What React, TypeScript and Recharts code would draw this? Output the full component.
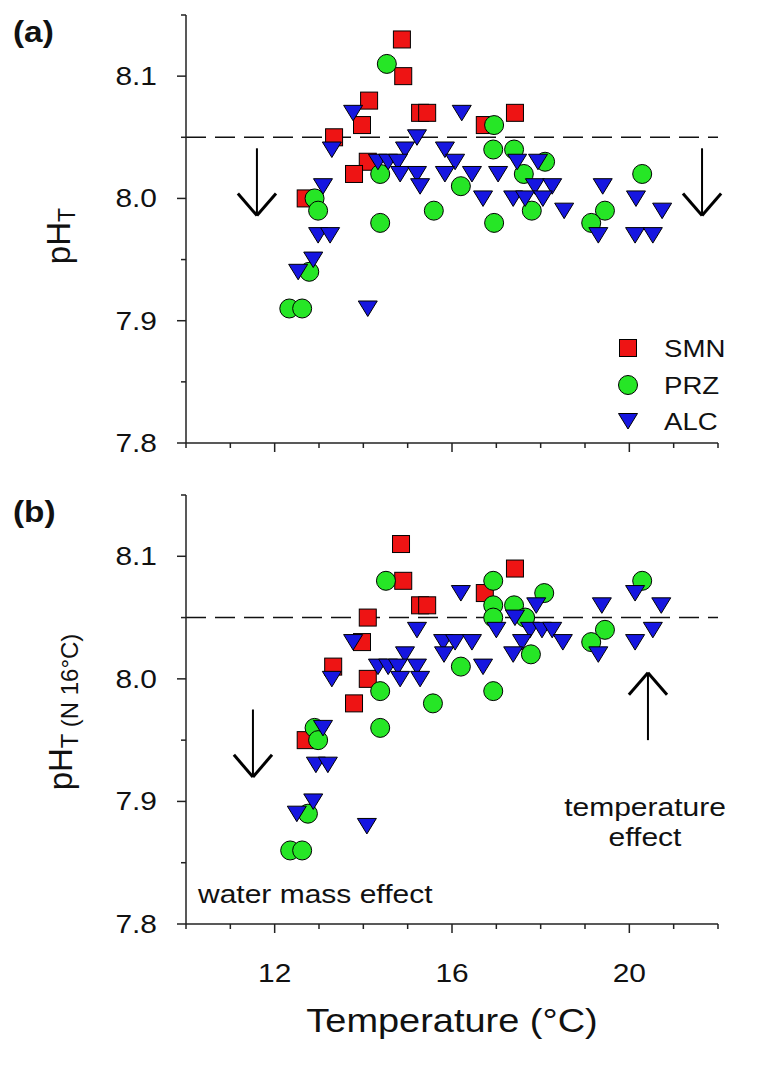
import React from 'react';
import { ScatterChart, Scatter, XAxis, YAxis, ReferenceLine } from 'recharts';

const FONT = 'Arial, "Liberation Sans", sans-serif';
const RED = '#ee1414';
const GREEN = '#26e626';
const BLUE = '#1616e0';
const AXIS = '#222';

const xTicks = [10, 11, 12, 13, 14, 15, 16, 17, 18, 19, 20, 21, 22];
const xLabels = [12, 16, 20];
const yTicks = [7.8, 7.85, 7.9, 7.95, 8.0, 8.05, 8.1, 8.15];
const yLabels = [7.8, 7.9, 8.0, 8.1];
const refPH = 8.05;

// (a) measured pH
const smnA = [
  { t: 14.87, ph: 8.13 }, { t: 14.9, ph: 8.1 }, { t: 14.13, ph: 8.08 }, { t: 13.97, ph: 8.06 },
  { t: 15.28, ph: 8.07 }, { t: 15.44, ph: 8.07 }, { t: 13.34, ph: 8.05 }, { t: 14.1, ph: 8.03 },
  { t: 13.79, ph: 8.02 }, { t: 12.7, ph: 8.0 }, { t: 17.42, ph: 8.07 }, { t: 16.74, ph: 8.06 },
];
const przA = [
  { t: 14.53, ph: 8.11 }, { t: 14.38, ph: 8.02 }, { t: 12.9, ph: 8.0 }, { t: 12.98, ph: 7.99 },
  { t: 14.38, ph: 7.98 }, { t: 15.59, ph: 7.99 }, { t: 16.2, ph: 8.01 }, { t: 16.95, ph: 8.06 },
  { t: 16.93, ph: 8.04 }, { t: 17.4, ph: 8.04 }, { t: 18.1, ph: 8.03 }, { t: 17.62, ph: 8.02 },
  { t: 16.95, ph: 7.98 }, { t: 17.8, ph: 7.99 }, { t: 20.29, ph: 8.02 }, { t: 19.45, ph: 7.99 },
  { t: 19.14, ph: 7.98 }, { t: 12.78, ph: 7.94 }, { t: 12.33, ph: 7.91 }, { t: 12.62, ph: 7.91 },
];
const alcA = [
  { t: 13.77, ph: 8.07 }, { t: 13.29, ph: 8.04 }, { t: 16.22, ph: 8.07 }, { t: 15.21, ph: 8.05 },
  { t: 14.94, ph: 8.04 }, { t: 15.84, ph: 8.04 }, { t: 16.07, ph: 8.03 }, { t: 14.33, ph: 8.03 },
  { t: 14.56, ph: 8.03 }, { t: 14.78, ph: 8.03 }, { t: 14.83, ph: 8.02 }, { t: 15.21, ph: 8.02 },
  { t: 15.28, ph: 8.01 }, { t: 15.84, ph: 8.02 }, { t: 16.45, ph: 8.02 }, { t: 13.09, ph: 8.01 },
  { t: 12.98, ph: 7.97 }, { t: 13.25, ph: 7.97 }, { t: 17.04, ph: 8.02 }, { t: 17.47, ph: 8.03 },
  { t: 17.94, ph: 8.03 }, { t: 17.87, ph: 8.01 }, { t: 18.26, ph: 8.01 }, { t: 16.7, ph: 8.0 },
  { t: 17.38, ph: 8.0 }, { t: 17.65, ph: 8.0 }, { t: 18.05, ph: 8.0 }, { t: 18.53, ph: 7.99 },
  { t: 19.4, ph: 8.01 }, { t: 20.15, ph: 8.0 }, { t: 20.74, ph: 7.99 }, { t: 19.3, ph: 7.97 },
  { t: 20.13, ph: 7.97 }, { t: 20.53, ph: 7.97 }, { t: 12.87, ph: 7.95 }, { t: 12.53, ph: 7.94 },
  { t: 14.1, ph: 7.91 },
];

// (b) pH normalised to 16 °C
const smnB = [
  { t: 14.85, ph: 8.11 }, { t: 14.9, ph: 8.08 }, { t: 15.28, ph: 8.06 }, { t: 15.44, ph: 8.06 },
  { t: 14.1, ph: 8.05 }, { t: 13.97, ph: 8.03 }, { t: 13.32, ph: 8.01 }, { t: 14.1, ph: 8.0 },
  { t: 13.79, ph: 7.98 }, { t: 12.7, ph: 7.95 }, { t: 17.42, ph: 8.09 }, { t: 16.74, ph: 8.07 },
];
const przB = [
  { t: 14.51, ph: 8.08 }, { t: 14.38, ph: 7.99 }, { t: 14.38, ph: 7.96 }, { t: 15.57, ph: 7.98 },
  { t: 16.2, ph: 8.01 }, { t: 16.93, ph: 8.08 }, { t: 16.93, ph: 8.06 }, { t: 16.93, ph: 8.05 },
  { t: 17.4, ph: 8.06 }, { t: 17.65, ph: 8.05 }, { t: 18.08, ph: 8.07 }, { t: 17.78, ph: 8.02 },
  { t: 16.93, ph: 7.99 }, { t: 20.29, ph: 8.08 }, { t: 19.45, ph: 8.04 }, { t: 19.14, ph: 8.03 },
  { t: 12.9, ph: 7.96 }, { t: 12.98, ph: 7.95 }, { t: 12.75, ph: 7.89 }, { t: 12.35, ph: 7.86 },
  { t: 12.62, ph: 7.86 },
];
const alcB = [
  { t: 16.2, ph: 8.07 }, { t: 15.21, ph: 8.04 }, { t: 13.77, ph: 8.03 }, { t: 15.8, ph: 8.03 },
  { t: 16.07, ph: 8.03 }, { t: 16.45, ph: 8.03 }, { t: 15.82, ph: 8.02 }, { t: 14.94, ph: 8.02 },
  { t: 14.33, ph: 8.01 }, { t: 14.56, ph: 8.01 }, { t: 14.78, ph: 8.01 }, { t: 15.21, ph: 8.01 },
  { t: 14.83, ph: 8.0 }, { t: 15.28, ph: 8.0 }, { t: 13.29, ph: 8.0 }, { t: 17.9, ph: 8.06 },
  { t: 17.42, ph: 8.05 }, { t: 17.0, ph: 8.04 }, { t: 17.76, ph: 8.04 }, { t: 18.03, ph: 8.04 },
  { t: 18.26, ph: 8.04 }, { t: 17.58, ph: 8.03 }, { t: 18.5, ph: 8.03 }, { t: 17.38, ph: 8.02 },
  { t: 16.7, ph: 8.01 }, { t: 19.38, ph: 8.06 }, { t: 19.3, ph: 8.02 }, { t: 20.13, ph: 8.07 },
  { t: 20.72, ph: 8.06 }, { t: 20.53, ph: 8.04 }, { t: 20.13, ph: 8.03 }, { t: 13.09, ph: 7.96 },
  { t: 12.93, ph: 7.93 }, { t: 13.2, ph: 7.93 }, { t: 12.87, ph: 7.9 }, { t: 12.5, ph: 7.89 },
  { t: 14.08, ph: 7.88 },
];

// arrows (temperature, start pH, tip pH)
const arrowsA = [
  { t: 11.6, from: 8.041, to: 7.986 },
  { t: 21.64, from: 8.041, to: 7.986 },
];
const arrowsB = [
  { t: 11.51, from: 7.975, to: 7.92 },
  { t: 20.42, from: 7.95, to: 8.005 },
];

const SquareDot = (p: any) => (
  <rect x={p.cx - 8.5} y={p.cy - 8.5} width={17} height={17} fill={RED} stroke="#000" strokeWidth={1} />
);
const CircleDot = (p: any) => (
  <circle cx={p.cx} cy={p.cy} r={9.5} fill={GREEN} stroke="#000" strokeWidth={1} />
);
const TriDot = (p: any) => (
  <polygon
    points={`${p.cx - 9.5},${p.cy - 7.5} ${p.cx + 9.5},${p.cy - 7.5} ${p.cx},${p.cy + 8}`}
    fill={BLUE}
    stroke="#000"
    strokeWidth={1}
  />
);

const XTick = ({ x, y, payload, showLabel }: any) => {
  const major = xLabels.includes(payload.value);
  return (
    <g>
      <line x1={x} y1={y} x2={x} y2={y + (major ? 9 : 5)} stroke={AXIS} strokeWidth={1.5} />
      {showLabel && major && (
        <text transform={`translate(${x},${y + 58}) scale(1.15,1)`} textAnchor="middle" fontSize={26} fill="#111">
          {payload.value}
        </text>
      )}
    </g>
  );
};

const YTick = ({ x, y, payload }: any) => {
  const v = payload.value;
  const major = yLabels.some((l) => Math.abs(l - v) < 1e-6);
  return (
    <g>
      <line x1={x - (major ? 9 : 5)} y1={y} x2={x} y2={y} stroke={AXIS} strokeWidth={1.5} />
      {major && (
        <text transform={`translate(${x - 29},${y + 9}) scale(1.15,1)`} textAnchor="end" fontSize={26} fill="#111">
          {v.toFixed(1)}
        </text>
      )}
    </g>
  );
};

const arrowLines = (list: { t: number; from: number; to: number }[], key: string) =>
  list.flatMap((a, i) => {
    const dir = a.to < a.from ? 1 : -1;
    return [
      <ReferenceLine key={`${key}s${i}`} ifOverflow="visible" stroke="#000" strokeWidth={2}
        segment={[{ x: a.t, y: a.from }, { x: a.t, y: a.to }]} />,
      <ReferenceLine key={`${key}l${i}`} ifOverflow="visible" stroke="#000" strokeWidth={3}
        segment={[{ x: a.t - 0.43, y: a.to + dir * 0.018 }, { x: a.t, y: a.to }]} />,
      <ReferenceLine key={`${key}r${i}`} ifOverflow="visible" stroke="#000" strokeWidth={3}
        segment={[{ x: a.t + 0.43, y: a.to + dir * 0.018 }, { x: a.t, y: a.to }]} />,
    ];
  });

const Panel = ({ smn, prz, alc, arrows, height, xHeight, showLabels, id }: any) => (
  <ScatterChart
    width={783}
    height={height}
    margin={{ top: 15, right: 65, bottom: 0, left: 0 }}
    style={{ fontFamily: FONT }}
  >
    <XAxis
      type="number"
      dataKey="t"
      domain={[10, 22]}
      ticks={xTicks}
      interval={0}
      height={xHeight}
      tickSize={0}
      tickMargin={0}
      tickLine={false}
      axisLine={{ stroke: AXIS, strokeWidth: 1.5 }}
      tick={<XTick showLabel={showLabels} />}
      allowDataOverflow
    />
    <YAxis
      type="number"
      dataKey="ph"
      domain={[7.8, 8.15]}
      ticks={yTicks}
      interval={0}
      width={186}
      tickSize={0}
      tickMargin={0}
      tickLine={false}
      axisLine={{ stroke: AXIS, strokeWidth: 1.5 }}
      tick={<YTick />}
      allowDataOverflow
    />
    <ReferenceLine y={refPH} stroke="#111" strokeWidth={1.5} strokeDasharray="20 9" />
    {arrowLines(arrows, id)}
    <Scatter name="SMN" data={smn} shape={SquareDot} isAnimationActive={false} />
    <Scatter name="PRZ" data={prz} shape={CircleDot} isAnimationActive={false} />
    <Scatter name="ALC" data={alc} shape={TriDot} isAnimationActive={false} />
  </ScatterChart>
);

const legendItems = [
  { name: 'SMN', y: 348 },
  { name: 'PRZ', y: 385 },
  { name: 'ALC', y: 421 },
];

export default function App() {
  return (
    <div style={{ position: 'absolute', left: 0, top: 0, width: 783, height: 1067, background: '#fff', fontFamily: FONT }}>
      <div style={{ position: 'absolute', left: 0, top: 0 }}>
        <Panel smn={smnA} prz={przA} alc={alcA} arrows={arrowsA} height={480} xHeight={37} showLabels={false} id="a" />
      </div>
      <div style={{ position: 'absolute', left: 0, top: 480 }}>
        <Panel smn={smnB} prz={przB} alc={alcB} arrows={arrowsB} height={587} xHeight={143} showLabels id="b" />
      </div>
      <svg
        width={783}
        height={1067}
        style={{ position: 'absolute', left: 0, top: 0, pointerEvents: 'none', fontFamily: FONT }}
      >
        <text transform="translate(13,42) scale(1.15,1)" fontSize={29} fontWeight="bold" fill="#111">(a)</text>
        <text transform="translate(13,522) scale(1.15,1)" fontSize={29} fontWeight="bold" fill="#111">(b)</text>

        <text transform="translate(58,236) rotate(-90)" textAnchor="middle" dominantBaseline="central" fontSize={33} fill="#111">
          pH<tspan fontSize={23} dy={9}>T</tspan>
        </text>
        <text transform="translate(60,712) rotate(-90)" textAnchor="middle" dominantBaseline="central" fontSize={33} fill="#111">
          pH<tspan fontSize={24} dy={9}>T (N 16°C)</tspan>
        </text>

        <text transform="translate(452,1032) scale(1.15,1)" textAnchor="middle" fontSize={33} fill="#111">
          Temperature (°C)
        </text>

        {legendItems.map((it, i) => (
          <g key={it.name}>
            {i === 0 && <SquareDot cx={628} cy={it.y} />}
            {i === 1 && <CircleDot cx={628} cy={it.y} />}
            {i === 2 && <TriDot cx={628} cy={it.y} />}
            <text transform={`translate(664,${it.y + 9}) scale(1.15,1)`} fontSize={24} fill="#111">
              {it.name}
            </text>
          </g>
        ))}

        <text transform="translate(645,816) scale(1.2,1)" textAnchor="middle" fontSize={25} fill="#111">temperature</text>
        <text transform="translate(645,846) scale(1.2,1)" textAnchor="middle" fontSize={25} fill="#111">effect</text>
        <text transform="translate(198,903) scale(1.2,1)" fontSize={25} fill="#111">water mass effect</text>
      </svg>
    </div>
  );
}
